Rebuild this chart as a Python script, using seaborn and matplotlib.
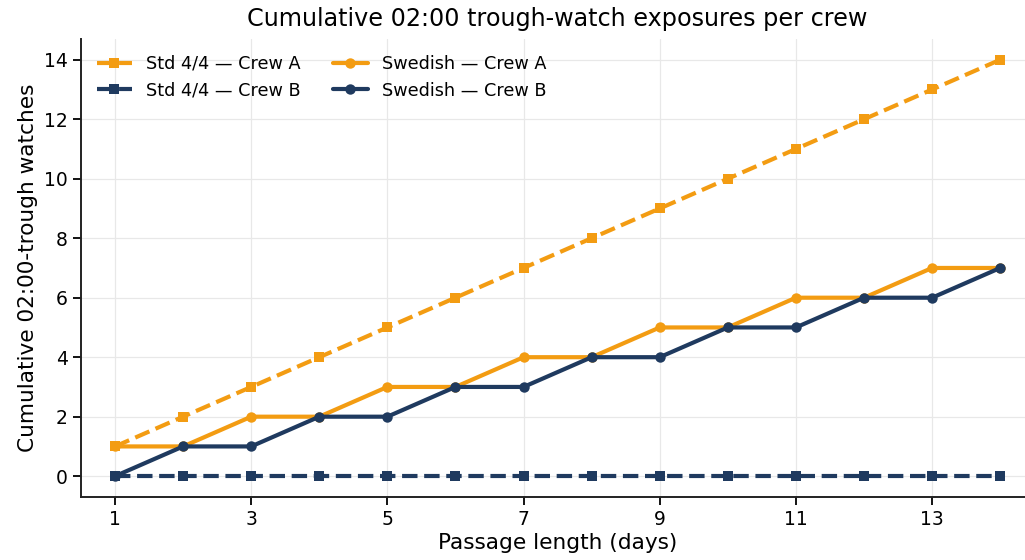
import matplotlib
matplotlib.use("Agg")
import matplotlib.pyplot as plt
import seaborn as sns
import pandas as pd

days = list(range(1, 15))
std_crew_a = [1, 2, 3, 4, 5, 6, 7, 8, 9, 10, 11, 12, 13, 14]
std_crew_b = [0, 0, 0, 0, 0, 0, 0, 0, 0, 0, 0, 0, 0, 0]
swe_crew_a = [1, 1, 2, 2, 3, 3, 4, 4, 5, 5, 6, 6, 7, 7]
swe_crew_b = [0, 1, 1, 2, 2, 3, 3, 4, 4, 5, 5, 6, 6, 7]
xticks = [1, 3, 5, 7, 9, 11, 13]

ORANGE = "#f39c12"
NAVY = "#1f3a5f"

sns.set_theme(style="whitegrid")
plt.rcParams["font.family"] = ["DejaVu Sans"]
plt.rcParams["text.color"] = "black"
plt.rcParams["axes.labelcolor"] = "black"
plt.rcParams["xtick.color"] = "black"
plt.rcParams["ytick.color"] = "black"

fig = plt.figure(figsize=(10.25, 5.6), dpi=100)
ax = fig.add_axes([0.079, 0.1125, 0.930, 0.818])

series = [
    ("Std 4/4 — Crew A", std_crew_a, ORANGE, "--", "s"),
    ("Std 4/4 — Crew B", std_crew_b, NAVY, "--", "s"),
    ("Swedish — Crew A", swe_crew_a, ORANGE, "-", "o"),
    ("Swedish — Crew B", swe_crew_b, NAVY, "-", "o"),
]
for label, vals, col, ls, mk in series:
    df = pd.DataFrame({"day": days, "v": vals})
    sns.lineplot(data=df, x="day", y="v", ax=ax, color=col, linestyle=ls,
                 marker=mk, markersize=7.5, markeredgewidth=0, linewidth=3,
                 label=label)

ax.set_xlim(0.5, 14.5)
ax.set_ylim(-0.7, 14.7)
ax.set_xticks(xticks)
ax.set_yticks(range(0, 15, 2))
ax.set_xlabel("Passage length (days)", fontsize=15.6, labelpad=3)
ax.set_ylabel("Cumulative 02:00-trough watches", fontsize=15.6)
ax.set_title("Cumulative 02:00 trough-watch exposures per crew", fontsize=17.2, pad=9)
ax.tick_params(axis="both", labelsize=13.5, length=6, width=1.3, color="black",
               bottom=True, left=True)
ax.grid(True, color="#e8e8e8", linewidth=0.9)
for s in ["top", "right"]:
    ax.spines[s].set_visible(False)
for s in ["left", "bottom"]:
    ax.spines[s].set_color("#222222")
    ax.spines[s].set_linewidth(1.4)
ax.set_facecolor("white")

ax.legend(ncol=2, loc="upper left", frameon=False, fontsize=12.7,
          handlelength=2.0, columnspacing=1.8)

fig.savefig("out.png", dpi=100, facecolor="white")
